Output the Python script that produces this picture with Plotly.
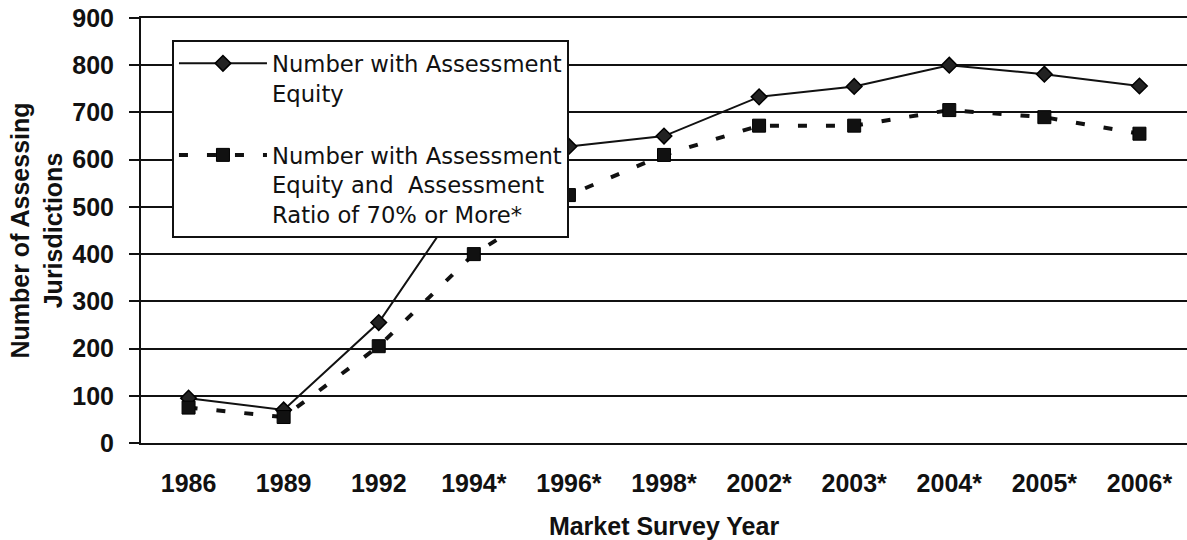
import plotly.graph_objects as go

years = ["1986", "1989", "1992", "1994*", "1996*", "1998*", "2002*", "2003*", "2004*", "2005*", "2006*"]
equity = [95, 70, 255, 550, 628, 650, 733, 755, 800, 781, 756]
equity_ratio70 = [75, 55, 205, 400, 525, 610, 672, 672, 705, 690, 655]

name_equity = "Number with Assessment<br>Equity<br> "
name_ratio = "Number with Assessment<br>Equity and  Assessment<br>Ratio of 70% or More*"

FONT = "Liberation Sans, Arial, sans-serif"
LEGEND_FONT = "DejaVu Sans, Liberation Sans, Arial, sans-serif"
INK = "#111111"

fig = go.Figure()
fig.add_trace(go.Scatter(
    x=years, y=equity, name=name_equity, mode="lines+markers",
    line=dict(color=INK, width=2),
    marker=dict(symbol="diamond", size=12, color="#222222", line=dict(color="#000000", width=1.5)),
))
fig.add_trace(go.Scatter(
    x=years, y=equity_ratio70, name=name_ratio, mode="lines+markers",
    line=dict(color=INK, width=4, dash="9px,19px"),
    marker=dict(symbol="square", size=13, color=INK, line=dict(color="#000000", width=1)),
))

fig.update_layout(
    width=1187, height=540,
    margin=dict(l=141, r=0, t=18, b=97),
    paper_bgcolor="white", plot_bgcolor="white",
    font=dict(family=FONT, color=INK),
    showlegend=True,
    legend=dict(
        x=0.0296, y=0.948, xanchor="left", yanchor="top",
        bgcolor="white", bordercolor=INK, borderwidth=2,
        font=dict(family=LEGEND_FONT, size=22.7, color=INK),
        valign="top", itemwidth=88,
        traceorder="normal",
    ),
    xaxis=dict(
        type="category", range=[-0.5, 10.5],
        showgrid=False, showline=True, mirror=True, linecolor=INK, linewidth=2,
        ticks="", ticklabelstandoff=17,
        tickfont=dict(family=FONT, size=25, color=INK, weight="bold"),
        title=dict(text="Market Survey Year", standoff=23,
                   font=dict(family=FONT, size=25, color=INK, weight="bold")),
        automargin=False,
    ),
    yaxis=dict(
        range=[0, 900], dtick=100, tick0=0,
        showgrid=True, gridcolor=INK, gridwidth=2,
        showline=True, linecolor=INK, linewidth=2,
        zeroline=False,
        ticks="outside", ticklen=10, tickwidth=2, tickcolor=INK,
        ticklabelstandoff=10, ticklabeloverflow="allow",
        tickfont=dict(family=FONT, size=25, color=INK, weight="bold"),
        title=dict(text="Number of Assessing<br>Jurisdictions", standoff=3,
                   font=dict(family=FONT, size=25, color=INK, weight="bold")),
        automargin=False,
    ),
)

# remove the default 8px page margin so the 1187x540 figure fills the window exactly
fig.write_html("out.html", config={"displayModeBar": False},
               post_script="document.body.style.margin='0';")
